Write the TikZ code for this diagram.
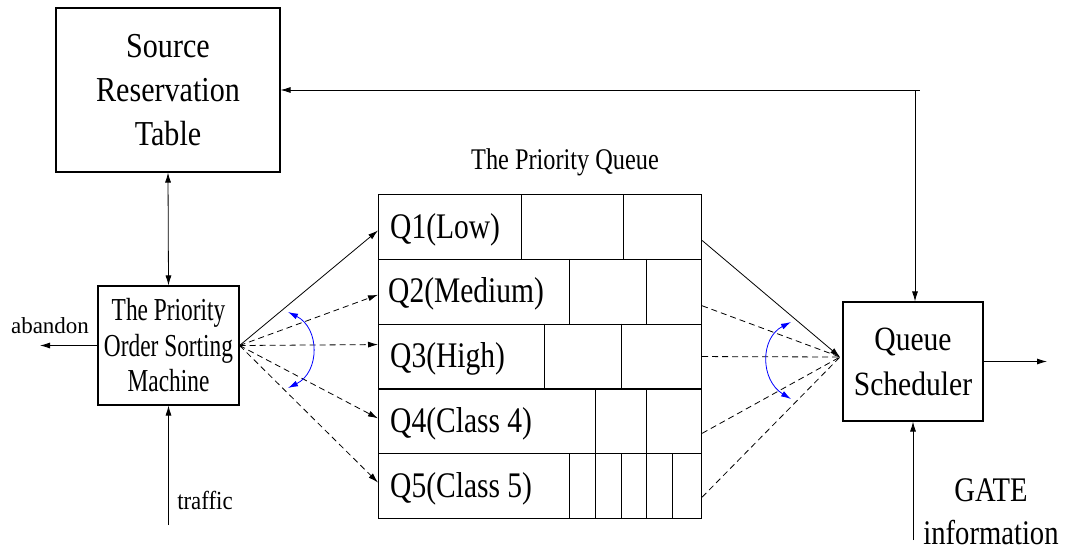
\documentclass[tikz,border=0pt]{standalone}
\usepackage{fontspec}
\setmainfont{Liberation Serif}
% condensed cuts of the same serif for the different labels
\newfontfamily\tableface{Liberation Serif}[FakeStretch=0.86]
\newfontfamily\sortface{Liberation Serif}[FakeStretch=0.73]
\newfontfamily\queueface{Liberation Serif}[FakeStretch=0.82]
\newfontfamily\schedface{Liberation Serif}[FakeStretch=0.87]
\newfontfamily\gateface{Liberation Serif}[FakeStretch=0.83]
\newfontfamily\titleface{Liberation Serif}[FakeStretch=0.81]
\newfontfamily\trafficface{Liberation Serif}[FakeStretch=0.88]
\usetikzlibrary{arrows.meta}
\tikzset{
  box/.style={draw, line width=1.1pt, inner sep=0pt, align=center},
  qrow/.style={draw, line width=1.1pt, inner sep=0pt, anchor=north west,
    minimum width=323pt, minimum height=64.8pt},
  qlabel/.style={anchor=west, inner sep=0pt, font=\queueface\fontsize{36}{40}\selectfont},
  divider/.style={line width=1pt},
  tip/.style={-{Latex[length=10pt,width=6pt]}},
  conn/.style={line width=0.8pt, tip},
  plainline/.style={line width=0.8pt},
  twoway/.style={line width=0.8pt, {Latex[length=10pt,width=6pt]}-{Latex[length=10pt,width=6pt]}},
  dashed line/.style={dash pattern=on 6pt off 4pt},
  sweep/.style={blue, line width=0.8pt, {Latex[length=10pt,width=6pt]}-{Latex[length=10pt,width=6pt]}},
  lbl/.style={inner sep=0pt}
}
\begin{document}
\begin{tikzpicture}[x=1pt, y=-1pt]
\useasboundingbox (0,0) rectangle (1067,552);

% main blocks
\node[box, minimum width=224pt, minimum height=164pt,
      font=\tableface\fontsize{35}{44}\selectfont] (srt) at (168,90)
      {Source\\Reservation\\Table};
\node[box, minimum width=141pt, minimum height=119pt,
      font=\sortface\fontsize{32}{35.5}\selectfont] (sort) at (168.5,345.5)
      {The Priority\\Order Sorting\\Machine};
\node[box, minimum width=140pt, minimum height=119pt,
      font=\schedface\fontsize{34}{45}\selectfont] (sched) at (913,361.5)
      {Queue\\Scheduler};

% the priority queue: five rows of cells
\node[lbl, font=\titleface\fontsize{30}{34}\selectfont] (title) at (565,162) {The Priority Queue};
\node[qrow] (q1) at (378,194.0) {};
\node[qrow] (q2) at (378,258.8) {};
\node[qrow] (q3) at (378,323.6) {};
\node[qrow] (q4) at (378,388.4) {};
\node[qrow] (q5) at (378,453.2) {};

\node[qlabel] (l1) at (390,230) {Q1(Low)};
\node[qlabel] (l2) at (388,294) {Q2(Medium)};
\node[qlabel] (l3) at (390,359) {Q3(High)};
\node[qlabel] (l4) at (390,424) {Q4(Class 4)};
\node[qlabel] (l5) at (390,489) {Q5(Class 5)};

\foreach \r/\xs in {q1/{521,623}, q2/{569,646}, q3/{544,621}, q4/{595,646},
                     q5/{569,595,621,646,672}} {
  \foreach \x in \xs {
    \draw[divider] (\r.north -| \x,0) -- (\r.south -| \x,0);
  }
}

% plain labels
\node[lbl, font=\fontsize{23}{28}\selectfont, anchor=base] (ab) at (50,333) {abandon};
\node[lbl, font=\trafficface\fontsize{26}{30}\selectfont, anchor=base] (tr) at (205,509) {traffic};
\node[lbl, font=\gateface\fontsize{34.5}{43}\selectfont, align=center] (gate) at (991,512)
      {GATE\\information};

% free ends of connectors
\coordinate (abEnd) at (40,345.5);
\coordinate (trStart) at (168.5,525);
\coordinate (gateStart) at (913,540);
\coordinate (outEnd) at (1047,361.5);
\coordinate (fb) at (915,90);
\coordinate (conv) at (840,357);
\coordinate (la) at (288,312);
\coordinate (lb) at (288,388);
\coordinate (ra) at (791,322);
\coordinate (rb) at (791,399);

% connectors around the sorting machine
\draw[twoway] (srt.south) -- (sort.north);
\draw[conn] (sort.west) -- (abEnd);
\draw[conn] (trStart) -- (sort.south);

% fan into the queues
\draw[conn] (sort.east) -- ([yshift=-3.5pt]q1.west);
\draw[conn, dashed line] (sort.east) -- ([yshift=-3pt]q2.west);
\draw[conn, dashed line] (sort.east) -- ([yshift=12pt]q3.west);
\draw[conn, dashed line] (sort.east) -- ([yshift=3pt]q4.west);
\draw[conn, dashed line] (sort.east) -- ([yshift=3.6pt]q5.west);
\draw[sweep] (la) .. controls (320,328) and (320,372) .. (lb);

% fan out of the queues into the scheduler
\draw[plainline, dashed line] ([yshift=-14pt]q2.east) -- (conv);
\draw[plainline, dashed line] (q3.east) -- (conv);
\draw[plainline, dashed line] ([yshift=-12pt]q4.east) -- (conv);
\draw[plainline, dashed line] ([yshift=-11pt]q5.east) -- (conv);
\draw[conn] ([yshift=-13.5pt]q1.east) -- (conv);
\draw[sweep] (ra) .. controls (760,338) and (760,380) .. (rb);

% scheduler connections
\draw[conn] (fb) -- (srt.east);
\draw[plainline] (fb) -- ++(5,0);
\draw[conn] (fb) -- (fb |- sched.north);
\draw[conn] (gateStart) -- (gateStart |- sched.south);
\draw[conn] (sched.east |- outEnd) -- (outEnd);
\end{tikzpicture}
\end{document}
